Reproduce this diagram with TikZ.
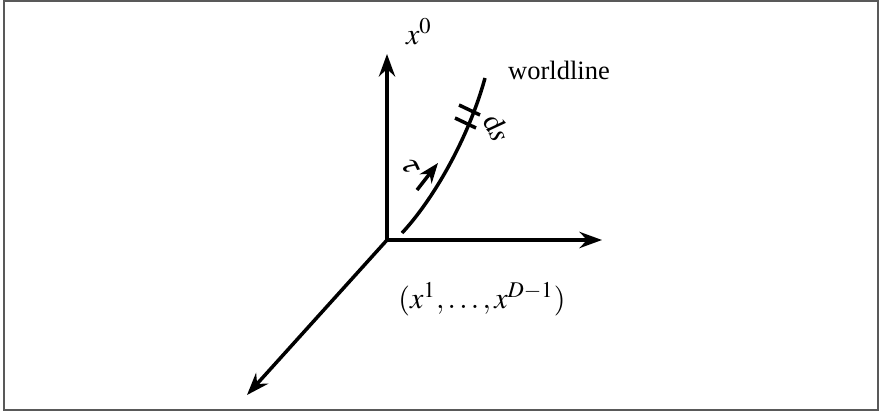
\documentclass[tikz,border=0pt]{standalone}
\usepackage{mathptmx}
\usepackage{fontspec}
\setmainfont{Liberation Serif}
\usetikzlibrary{arrows.meta}
\begin{document}
\begin{tikzpicture}[x=0.4pt,y=-0.4pt,
  axis/.style={line width=1.4pt,-{Stealth[length=9pt,width=6.5pt,inset=3pt]}},
  wl/.style={line width=1.4pt},
  lbl/.style={inner sep=0pt,font=\fontsize{10.6}{12}\selectfont},
  mlbl/.style={inner sep=0pt,font=\fontsize{12}{14}\selectfont}]
\useasboundingbox (0,0) rectangle (879,412);
\draw[gray!70!black,line width=0.8pt] (4,1.5) rectangle (878,410);
\coordinate (O) at (387,240);
\coordinate (T) at (387,54);
\coordinate (X) at (602,240);
\coordinate (Z) at (247,395);
\draw[axis] (O) -- (T);
\draw[axis] (O) -- (X);
\draw[axis] (O) -- (Z);
\coordinate (W0) at (402,233);
\coordinate (W1) at (485,78);
\draw[wl] (W0) .. controls (432,201) and (468,140) .. (W1);
\coordinate (a1) at (459,105); \coordinate (b1) at (480,115);
\coordinate (a2) at (455,118); \coordinate (b2) at (476,128);
\draw[wl] (a1) -- (b1);
\draw[wl] (a2) -- (b2);
\coordinate (r0) at (417,190);
\coordinate (r1) at (438,163);
\draw[line width=1.4pt,-{Stealth[length=8pt,width=6pt,inset=2.5pt]}] (r0) -- (r1);
\node[mlbl] (x0) at (419,32) {$x^0$};
\node[lbl] (wlt) at (559,70) {worldline};
\node[mlbl,rotate=-65] (tau) at (410,167) {$\tau$};
\node[mlbl,rotate=-65] (ds) at (497,128) {$\mathrm{d}s$};
\node[mlbl] (xs) at (482,299) {$(x^1,\ldots,x^{D-1})$};
\end{tikzpicture}
\end{document}
